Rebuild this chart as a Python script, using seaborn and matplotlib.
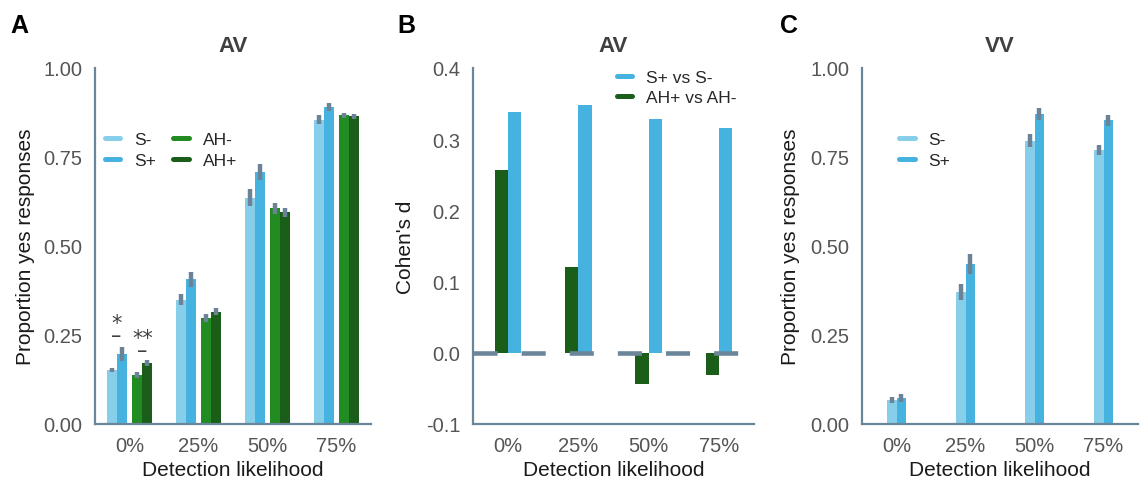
import numpy as np
import pandas as pd
import matplotlib
matplotlib.use("Agg")
import matplotlib.pyplot as plt
from matplotlib.lines import Line2D
import seaborn as sns

# ---------------- data ----------------
categories = ["0%", "25%", "50%", "75%"]

# Panel A (AV) - proportion yes responses
A_conditions = ["S-", "S+", "AH-", "AH+"]
A_S_minus = [0.152, 0.349, 0.636, 0.855]
A_S_plus = [0.197, 0.406, 0.707, 0.890]
A_AH_minus = [0.138, 0.298, 0.606, 0.867]
A_AH_plus = [0.172, 0.316, 0.595, 0.864]
A_S_minus_err = [0.006, 0.016, 0.023, 0.012]
A_S_plus_err = [0.019, 0.021, 0.022, 0.012]
A_AH_minus_err = [0.008, 0.011, 0.015, 0.008]
A_AH_plus_err = [0.008, 0.010, 0.013, 0.008]

# Panel B (AV) - Cohen's d
B_conditions = ["AH+ vs AH-", "S+ vs S-"]
B_AH = [0.257, 0.121, -0.0435, -0.031]
B_S = [0.338, 0.348, 0.329, 0.316]

# Panel C (VV) - proportion yes responses
C_conditions = ["S-", "S+"]
C_S_minus = [0.068, 0.371, 0.796, 0.770]
C_S_plus = [0.073, 0.449, 0.871, 0.853]
C_S_minus_err = [0.009, 0.022, 0.019, 0.015]
C_S_plus_err = [0.011, 0.029, 0.016, 0.015]

prop_ticks = [0.0, 0.25, 0.5, 0.75, 1.0]
prop_ticklabels = ["0.00", "0.25", "0.50", "0.75", "1.00"]
d_ticks = [-0.1, 0.0, 0.1, 0.2, 0.3, 0.4]
d_ticklabels = ["-0.1", "0.0", "0.1", "0.2", "0.3", "0.4"]

# significance annotations in panel A: (text, x, y of first baseline)
A_annotations = [("*\n–", -0.187, 0.232), ("**\n–", 0.187, 0.19)]

# ---------------- style ----------------
sns.set_style("white")
plt.rcParams["font.family"] = ["Liberation Sans", "DejaVu Sans"]

colors = {"S-": "#87CEEB", "S+": "#45B2E0", "AH-": "#228B22", "AH+": "#1A5E1A",
          "S+ vs S-": "#45B2E0", "AH+ vs AH-": "#1A5E1A"}
A_offsets = {"S-": -0.26, "S+": -0.115, "AH-": 0.115, "AH+": 0.26}
spine_c = "#6B8599"
err_c = "#6C8397"
tick_c = "#555555"
TICK_FS = 14.5
LABEL_FS = 15

fig = plt.figure(figsize=(11.44, 4.81), dpi=100)
W, H = 1144, 481
axA = fig.add_axes([95 / W, 56 / H, 276 / W, 356 / H])
axB = fig.add_axes([473 / W, 56 / H, 281 / W, 356 / H])
axC = fig.add_axes([862 / W, 56 / H, 276 / W, 356 / H])


def style_axis(ax, title, ylabel, ylab_x):
    sns.despine(ax=ax)
    for s in ["left", "bottom"]:
        ax.spines[s].set_color(spine_c)
        ax.spines[s].set_linewidth(1.6)
    ax.tick_params(axis="both", length=0, labelsize=TICK_FS, labelcolor=tick_c)
    ax.tick_params(axis="y", pad=9)
    ax.tick_params(axis="x", pad=9)
    ax.set_title(title, fontsize=16, fontweight="bold", color="#404040", pad=12)
    ax.set_xlabel("Detection likelihood", fontsize=LABEL_FS, color="#1a1a1a")
    ax.set_ylabel(ylabel, fontsize=LABEL_FS, color="#1a1a1a")
    ax.xaxis.set_label_coords(0.5, -0.10)
    ax.yaxis.set_label_coords(ylab_x, 0.5)


def add_errors(ax, errs_list):
    for cont, errs in zip(ax.containers, errs_list):
        xs = [p.get_x() + p.get_width() / 2 for p in cont.patches]
        ys = [p.get_height() for p in cont.patches]
        ax.errorbar(xs, ys, yerr=errs, fmt="none", ecolor=err_c,
                    elinewidth=3.2, capsize=0, zorder=4)


legend_kws = dict(frameon=False, fontsize=12.5, handlelength=0.9,
                  handletextpad=0.8, labelspacing=0.3, borderpad=0,
                  borderaxespad=0, loc="upper left")

# ---------------- Panel A ----------------
A_vals = {"S-": A_S_minus, "S+": A_S_plus, "AH-": A_AH_minus, "AH+": A_AH_plus}
rows = []
for cond in A_conditions:
    for i, v in enumerate(A_vals[cond]):
        rows.append({"xpos": i + A_offsets[cond], "value": v, "cond": cond})
dfA = pd.DataFrame(rows)
sns.barplot(data=dfA, x="xpos", y="value", hue="cond", hue_order=A_conditions,
            palette=colors, saturation=1, native_scale=True, dodge=False,
            width=1.0, errorbar=None, legend=False, linewidth=0, ax=axA)
add_errors(axA, [A_S_minus_err, A_S_plus_err, A_AH_minus_err, A_AH_plus_err])
axA.set_xlim(-0.5, 3.5)
axA.set_xticks(range(len(categories)))
axA.set_xticklabels(categories)
axA.set_ylim(0, 1)
axA.set_yticks(prop_ticks)
axA.set_yticklabels(prop_ticklabels)
style_axis(axA, "AV", "Proportion yes responses", -0.217)
for txt, x, y in A_annotations:
    axA.text(x, y, txt, ha="center", va="baseline", fontsize=15,
             color="#404040", family="DejaVu Sans", linespacing=0.5,
             multialignment="center")
handlesA = [Line2D([], [], color=colors[c], lw=3.6, solid_capstyle="round")
            for c in A_conditions]
axA.legend(handlesA, A_conditions, ncol=2, bbox_to_anchor=(0.035, 0.82),
           columnspacing=1.0, **legend_kws)

# ---------------- Panel B ----------------
B_vals = {"AH+ vs AH-": B_AH, "S+ vs S-": B_S}
rows = []
for cond in B_conditions:
    for cat, v in zip(categories, B_vals[cond]):
        rows.append({"cat": cat, "value": v, "cond": cond})
dfB = pd.DataFrame(rows)
sns.barplot(data=dfB, x="cat", y="value", hue="cond", hue_order=B_conditions,
            order=categories, palette=colors, saturation=1, width=0.38,
            errorbar=None, legend=False, linewidth=0, ax=axB)
axB.axhline(0, color=spine_c, lw=3.3, linestyle=(0, (5.25, 5.25)), zorder=5)
axB.set_xlim(-0.5, 3.5)
axB.set_ylim(-0.1, 0.4)
axB.set_yticks(d_ticks)
axB.set_yticklabels(d_ticklabels)
style_axis(axB, "AV", "Cohen's d", -0.206)
legB_order = ["S+ vs S-", "AH+ vs AH-"]
handlesB = [Line2D([], [], color=colors[c], lw=3.6, solid_capstyle="round")
            for c in legB_order]
axB.legend(handlesB, legB_order, bbox_to_anchor=(0.512, 0.996), **legend_kws)

# ---------------- Panel C ----------------
C_vals = {"S-": C_S_minus, "S+": C_S_plus}
rows = []
for cond in C_conditions:
    for cat, v in zip(categories, C_vals[cond]):
        rows.append({"cat": cat, "value": v, "cond": cond})
dfC = pd.DataFrame(rows)
sns.barplot(data=dfC, x="cat", y="value", hue="cond", hue_order=C_conditions,
            order=categories, palette=colors, saturation=1, width=0.27,
            errorbar=None, legend=False, linewidth=0, ax=axC)
add_errors(axC, [C_S_minus_err, C_S_plus_err])
axC.set_xlim(-0.5, 3.5)
axC.set_ylim(0, 1)
axC.set_yticks(prop_ticks)
axC.set_yticklabels(prop_ticklabels)
style_axis(axC, "VV", "Proportion yes responses", -0.225)
handlesC = [Line2D([], [], color=colors[c], lw=3.6, solid_capstyle="round")
            for c in C_conditions]
axC.legend(handlesC, C_conditions, bbox_to_anchor=(0.134, 0.82), **legend_kws)

# panel letters
for letter, px in [("A", 10), ("B", 397), ("C", 780)]:
    fig.text(px / W, 1 - 33 / H, letter, fontsize=18, fontweight="bold",
             color="black", ha="left", va="baseline")

fig.savefig("out.png", dpi=100)
